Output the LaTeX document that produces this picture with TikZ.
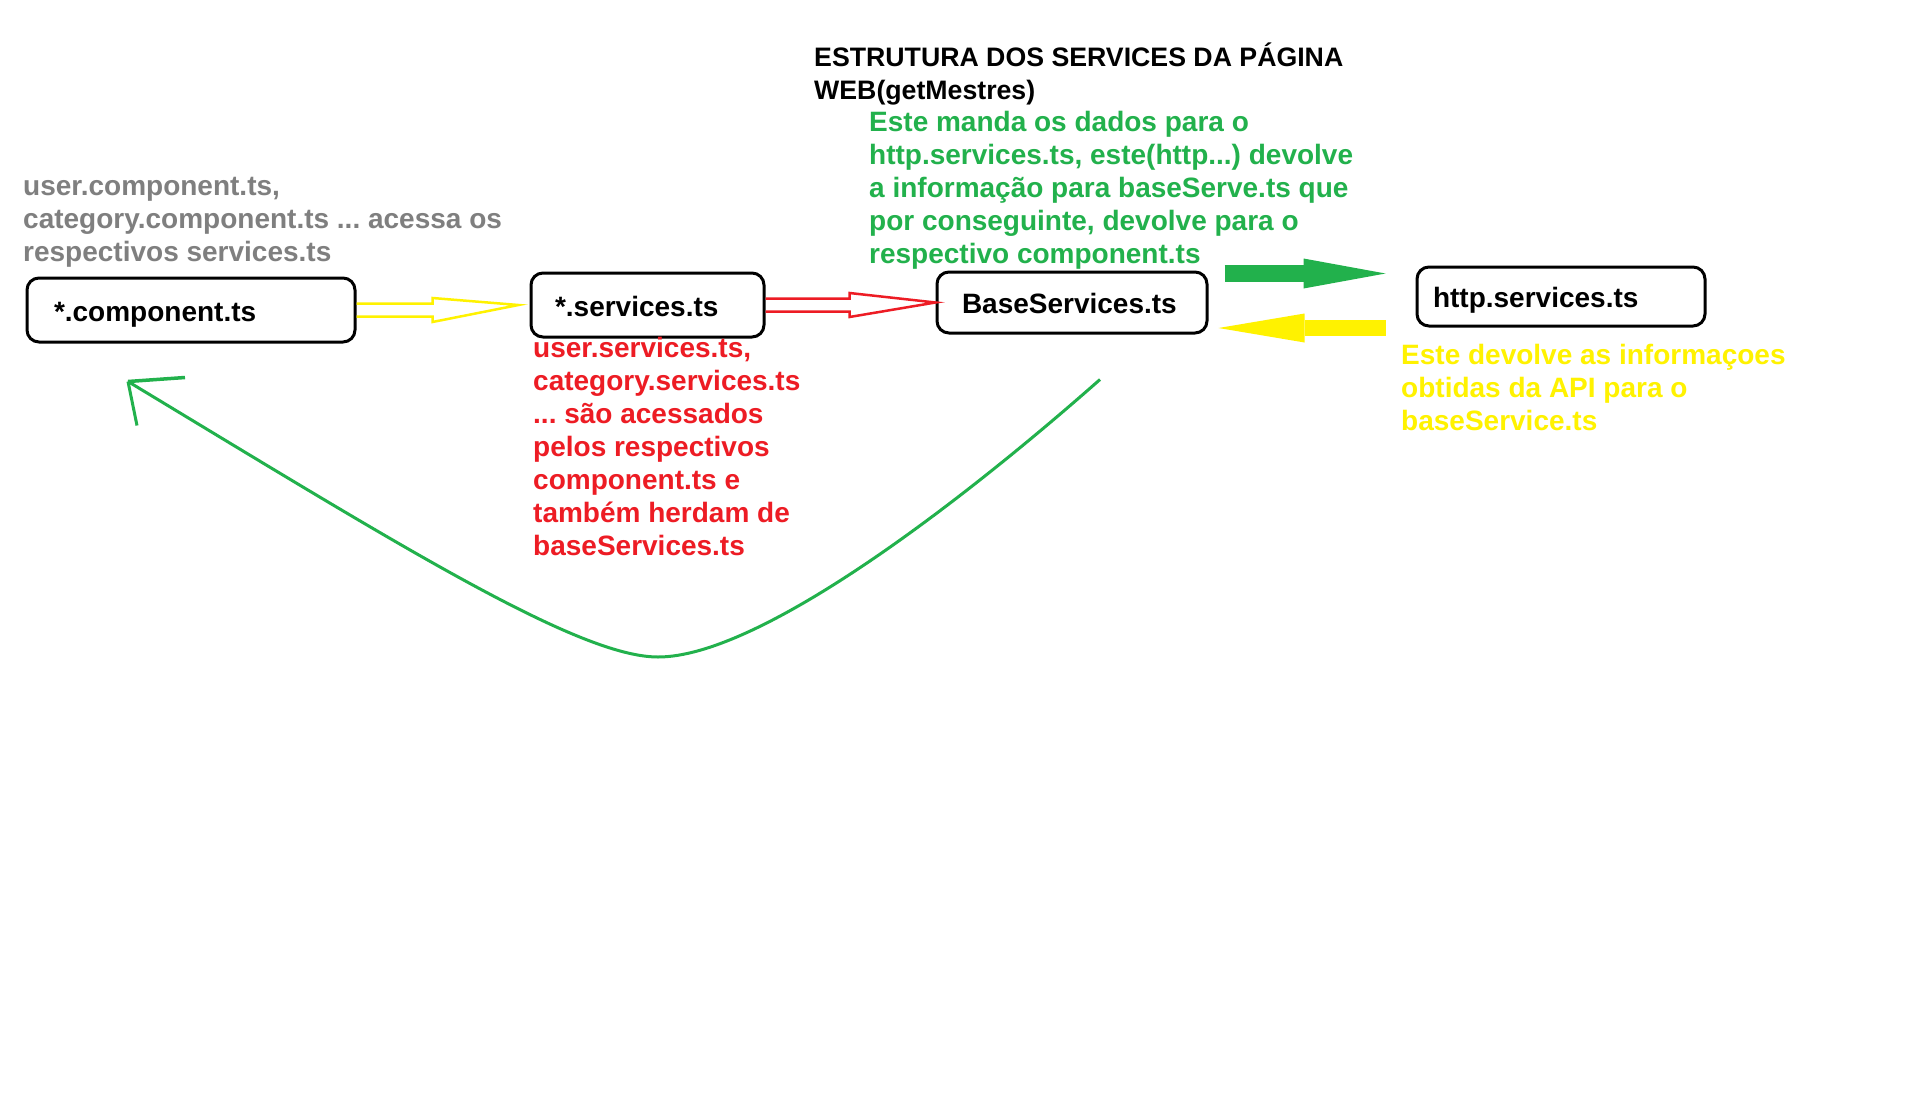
\documentclass[tikz,border=0pt]{standalone}
\usepackage{fontspec}
\setmainfont{Liberation Sans}
\usepackage{tikz}
\usepackage{xcolor}
\definecolor{paintgreen}{RGB}{34,177,76}
\definecolor{paintred}{RGB}{237,28,36}
\definecolor{paintyellow}{RGB}{255,242,0}
\definecolor{paintgray}{RGB}{127,127,127}
\usetikzlibrary{arrows.meta,calc}
\frenchspacing

\tikzset{
	filebox/.style={
		draw=black,            % black border
		line width=3pt,        % thick border
		rounded corners=12pt,  % paint-like rounding
		rectangle,             % shape
		align=left,            % text to the left
		inner ysep=0pt,
		text height=28pt,
		text depth=6pt,
		font=\bfseries\fontsize{28}{33}\selectfont
	},
	notetext/.style={
		anchor=north west,
		inner sep=0pt,
		align=left,
		execute at begin node=\strut,
		font=\bfseries\fontsize{28}{33}\selectfont
	},
	hollowarrow/.style={
		line width=2.5pt,
		line join=miter,
		to path={let \p1=(\tikztostart), \p2=(\tikztotarget) in
			(\x1,\y1+6.5pt) -- (\x2-86pt,\y1+6.5pt) -- (\x2-86pt,\y1+12pt) -- (\x2,\y2)
			-- (\x2-86pt,\y1-12pt) -- (\x2-86pt,\y1-6.5pt) -- (\x1,\y1-6.5pt)}
	},
	greenline/.style={draw=paintgreen, line width=3pt}
}

\begin{document}
\begin{tikzpicture}[x=1pt,y=-1pt]
	\fill[white] (0,0) rectangle (1914,1106); % page

	% boxes
	\node[filebox, text width=274pt, inner xsep=27pt, minimum height=64pt] (comp) at (191,310) {*.component.ts};
	\node[filebox, text width=185pt, inner xsep=24pt, minimum height=64pt] (serv) at (647.5,305) {*.services.ts};
	\node[filebox, text width=220pt, inner xsep=25pt, minimum height=61pt] (base) at (1072,302.5) {BaseServices.ts};
	\node[filebox, text width=256pt, inner xsep=16pt, minimum height=59pt] (http) at (1561,296.5) {http.services.ts};

	% texts
	\node[notetext, font=\bfseries\fontsize{26.7}{33}\selectfont] (title) at (814,43)
		{ESTRUTURA DOS SERVICES DA PÁGINA\\WEB(getMestres)};
	\node[notetext, text=paintgray] (compnote) at (23,176.9)
		{user.component.ts,\\category.component.ts ... acessa os\\respectivos services.ts};
	\node[notetext, text=paintgreen] (basenote) at (869,110.9)
		{Este manda os dados para o\\http.services.ts, este(http...) devolve\\a informação para baseServe.ts que\\por conseguinte, devolve para o\\respectivo component.ts};
	\node[notetext, text=paintyellow] (httpnote) at (1401,343.9)
		{Este devolve as informaçoes\\obtidas da API para o\\baseService.ts};
	\begin{scope}
		\clip (520,330) rectangle (799,580);
		\node[notetext, text=paintred] (servnote) at (533,336.9)
			{user.services.ts,\\category.services.ts\\... são acessados\\pelos respectivos\\component.ts e\\também herdam de\\baseServices.ts};
	\end{scope}

	% hollow arrows
	\draw[paintyellow, hollowarrow] (comp.east) to ([xshift=-11pt]serv.west);
	\draw[paintred, hollowarrow] (serv.east) to (base.west);

	% filled arrows
	\draw[paintgreen, line width=17pt, -{Triangle[length=82pt,width=30pt,line width=0pt]}]
		([xshift=16pt,yshift=29pt]base.east) -- ([xshift=-30pt,yshift=23pt]http.west);
	\draw[paintyellow, line width=16pt, -{Triangle[length=86pt,width=29pt,line width=0pt]}]
		([xshift=-30pt,yshift=-31.5pt]http.west) -- ([xshift=10pt,yshift=-25.5pt]base.east);

	% return curve
	\coordinate (curvestart) at ([shift={(28,45)}]base.south);
	\coordinate (curvetip) at ([shift={(-63,38)}]comp.south);
	\coordinate (curvebottom) at (658,657);
	\draw[greenline] (curvestart) .. controls +(-145,128) and +(100,0) .. (curvebottom)
		.. controls +(-80,0) and +(270,163) .. (curvetip);
	\draw[greenline, line width=3.5pt] (curvetip) -- ++(57,-4);
	\draw[greenline] (curvetip) -- ++(9,44);
\end{tikzpicture}
\end{document}
